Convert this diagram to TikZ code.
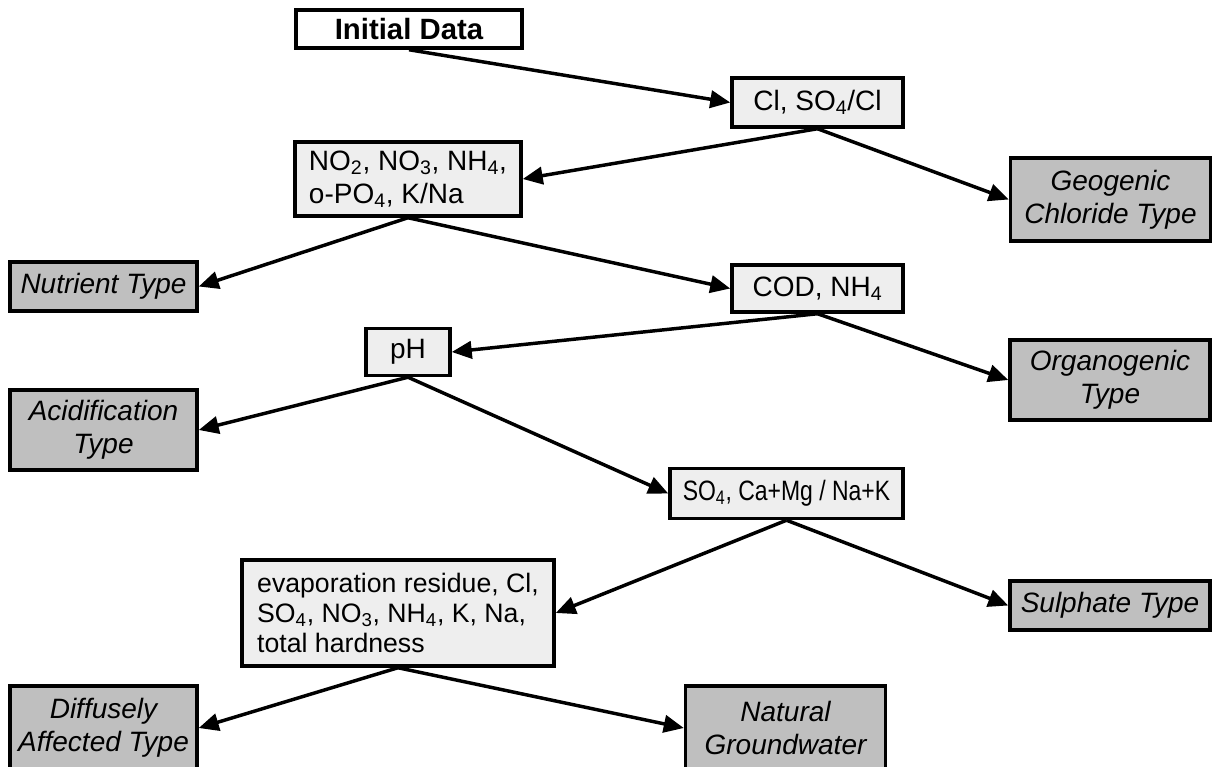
\documentclass[tikz,border=0pt]{standalone}
\usepackage{fontspec}
\setmainfont{Liberation Sans}
\newfontfamily\narrowsans[FakeStretch=0.82]{Liberation Sans}
\usetikzlibrary{arrows.meta}

\begin{document}
\begin{tikzpicture}[
  x=0.75pt, y=-0.75pt,
  box/.style={rectangle, draw=black, line width=2.6pt, inner sep=2pt,
              font=\fontsize{21}{25}\selectfont},
  boxsize/.style 2 args={minimum width=#1*0.75pt, minimum height=#2*0.75pt},
  start/.style={box, fill=white, font=\fontsize{22}{24}\selectfont\bfseries},
  test/.style={box, fill=gray!13, align=left},
  result/.style={box, fill=gray!50, align=center,
                 font=\fontsize{21}{25}\selectfont\itshape},
  flowarrow/.style={-{Triangle[length=15pt, width=13pt]}, line width=2.6pt}
]
\useasboundingbox (0,0) rectangle (1217,767);

% Test nodes
\node[start, boxsize={226}{38}] (init) at (409,29) {Initial Data};
\node[test, boxsize={171}{49}] (cl) at (817.5,102.5) {Cl, SO\textsubscript{4}/Cl};
\node[test, boxsize={226}{74}] (nox) at (408,179)
  {NO\textsubscript{2}, NO\textsubscript{3}, NH\textsubscript{4},\\ o-PO\textsubscript{4}, K/Na};
\node[test, boxsize={171}{47}] (cod) at (817.5,288.5) {COD, NH\textsubscript{4}};
\node[test, boxsize={84}{47}] (ph) at (408,352) {pH};
\node[test, boxsize={233}{50}, font=\fontsize{21}{25}\narrowsans] (sulf) at (786.5,493.5)
  {SO\textsubscript{4}, Ca+Mg / Na+K};
\node[test, boxsize={312}{106}, font=\fontsize{20}{22.5}\selectfont] (evap) at (398,613)
  {evaporation residue, Cl,\\ SO\textsubscript{4}, NO\textsubscript{3}, NH\textsubscript{4}, K, Na,\\ total hardness};

% Result types
\node[result, boxsize={200}{83}] (geo) at (1110.5,199.5) {Geogenic\\ Chloride Type};
\node[result, boxsize={187}{49}] (nutr) at (103.5,286.5) {Nutrient Type};
\node[result, boxsize={200}{80}] (org) at (1110,380) {Organogenic\\ Type};
\node[result, boxsize={187}{80}] (acid) at (103.5,430) {Acidification\\ Type};
\node[result, boxsize={200}{49}] (sulph) at (1110,605.5) {Sulphate Type};
\node[result, boxsize={187}{84}] (diff) at (103.5,728) {Diffusely\\ Affected Type};
\node[result, boxsize={200}{84}] (nat) at (785.5,728) {Natural\\ Groundwater};

% Decision arrows
\draw[flowarrow] (init.south) -- (cl.west);
\draw[flowarrow] (cl.south) -- (nox.east);
\draw[flowarrow] (cl.south) -- (geo.west);
\draw[flowarrow] (nox.south) -- (nutr.east);
\draw[flowarrow] (nox.south) -- (cod.west);
\draw[flowarrow] (cod.south) -- (ph.east);
\draw[flowarrow] (cod.south) -- (org.west);
\draw[flowarrow] (ph.south) -- (acid.east);
\draw[flowarrow] (ph.south) -- (sulf.west);
\draw[flowarrow] (sulf.south) -- (evap.east);
\draw[flowarrow] (sulf.south) -- (sulph.west);
\draw[flowarrow] (evap.south) -- (diff.east);
\draw[flowarrow] (evap.south) -- (nat.west);

\end{tikzpicture}
\end{document}
